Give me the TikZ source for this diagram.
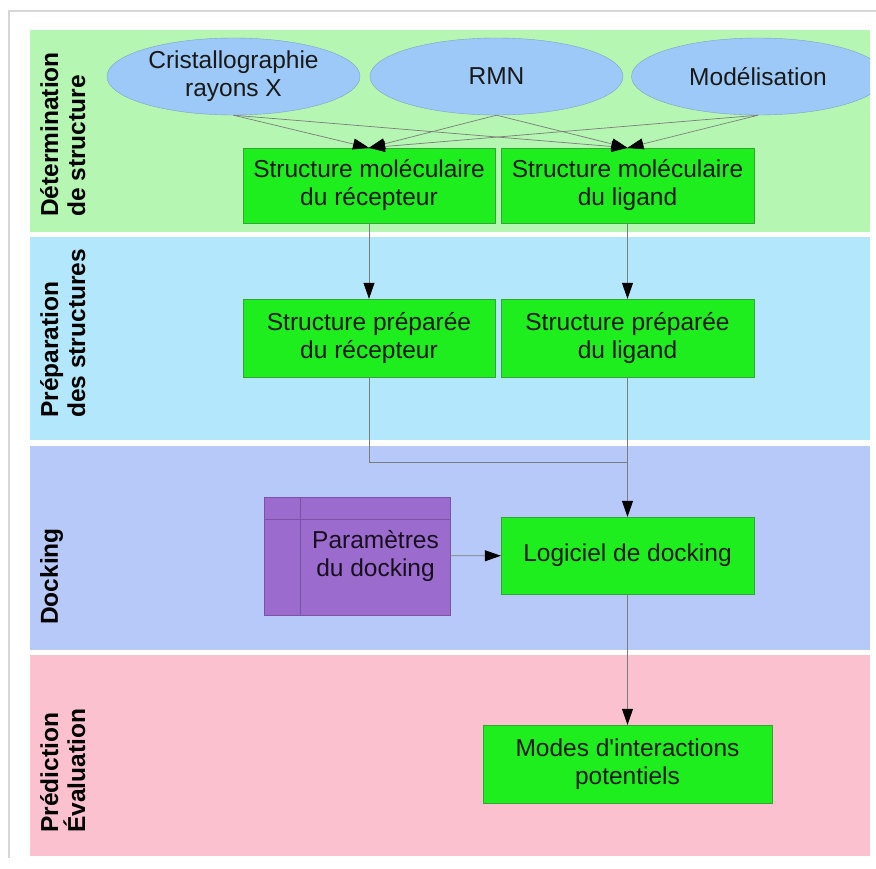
\documentclass[tikz,border=0pt]{standalone}
\usepackage{fontspec}
\setmainfont{Liberation Sans}
\usetikzlibrary{arrows.meta,shapes.geometric}
\definecolor{laneA}{HTML}{B5F6B2}
\definecolor{laneB}{HTML}{B3E8FC}
\definecolor{laneC}{HTML}{B6C9F8}
\definecolor{laneD}{HTML}{FBC1CF}
\definecolor{ellblue}{HTML}{9DC9F8}
\definecolor{ellborder}{HTML}{7FA0C8}
\definecolor{boxgreen}{HTML}{1EEE1E}
\definecolor{boxborder}{HTML}{32A532}
\definecolor{memopurple}{HTML}{9B6BCD}
\definecolor{memoborder}{HTML}{7A52A6}
\definecolor{linkgray}{HTML}{7C7C7C}
\definecolor{framegray}{HTML}{D6D6D6}

\begin{document}
\begin{tikzpicture}[x=1pt,y=-1pt,every node/.style={font=\fontsize{24.5}{28}\selectfont,align=center,text=black!90},lane/.style={fill=#1,draw=none,minimum width=840pt,inner sep=0,anchor=north west},lanelabel/.style={rotate=90,anchor=north west,align=left,inner sep=0,font=\bfseries\fontsize{24.5}{27}\selectfont,text=black},source/.style={ellipse,draw=ellborder,fill=ellblue,minimum width=253pt,minimum height=77pt,inner sep=0},result/.style={draw=boxborder,fill=boxgreen,minimum width=252pt,minimum height=#1,inner sep=0},result/.default=75pt,memo/.style={draw=memoborder,fill=memopurple,minimum width=186pt,minimum height=118pt,inner sep=0},link/.style={draw=linkgray,line width=0.7pt},arrow/.style={link,-{Triangle[length=16pt,width=11pt,black]}}]
\useasboundingbox (0,0) rectangle (876,868);
\fill[white] (0,0) rectangle (876,868);
\draw[framegray,line width=1.5pt] (9,858) -- (9,11) -- (876,11);
\node[lane=laneA,minimum height=202pt] (lane1) at (30,30) {};
\node[lane=laneB,minimum height=203pt] (lane2) at (30,237) {};
\node[lane=laneC,minimum height=204pt] (lane3) at (30,446) {};
\node[lane=laneD,minimum height=201pt] (lane4) at (30,655) {};
\node[lanelabel] (lab1) at (40,217) {Détermination\\de structure};
\node[lanelabel] (lab2) at (40,418) {Préparation\\des structures};
\node[lanelabel] (lab3) at (40,625) {Docking};
\node[lanelabel] (lab4) at (40,833) {Prédiction\\Évaluation};
\node[source] (xray) at (233.5,76.5) {Cristallographie\\rayons X};
\node[source] (nmr) at (496.5,76.5) {RMN};
\begin{scope}
\clip (30,30) rectangle (870,232);
\node[source] (model) at (758,76.5) {Modélisation};
\end{scope}
\node[result] (recMol) at (369,185.5) {Structure moléculaire\\du récepteur};
\node[result,minimum width=253pt] (ligMol) at (627.5,185.5) {Structure moléculaire\\du ligand};
\node[result=78pt] (recPrep) at (369,338) {Structure préparée\\du récepteur};
\node[result=78pt,minimum width=253pt] (ligPrep) at (627.5,338) {Structure préparée\\du ligand};
\node[result=77pt,minimum width=253pt] (dock) at (627.5,555.5) {Logiciel de docking};
\node[result=78pt,minimum width=289pt] (modes) at (627.5,764) {Modes d\textquotesingle interactions\\potentiels};
\node[memo] (params) at (357,556) {};
\draw[memoborder,line width=0.8pt] ([xshift=37pt]params.north west) -- ([xshift=37pt]params.south west);
\draw[memoborder,line width=0.8pt] ([yshift=-23pt]params.north west) -- ([yshift=-23pt]params.north east);
\node[text=black!85!memopurple] (paramsText) at (375.5,556) {Paramètres\\du docking};
\coordinate (merge) at (627.5,462);
\foreach \s in {xray,nmr,model}
  \foreach \t in {recMol,ligMol}
    \draw[arrow] (\s.south) -- (\t.north);
\draw[arrow] (recMol) -- (recPrep);
\draw[arrow] (ligMol) -- (ligPrep);
\draw[link] (recPrep.south) |- (merge);
\draw[arrow] (ligPrep) -- (dock);
\draw[arrow] (params) -- (dock);
\draw[arrow] (dock) -- (modes);
\end{tikzpicture}
\end{document}
